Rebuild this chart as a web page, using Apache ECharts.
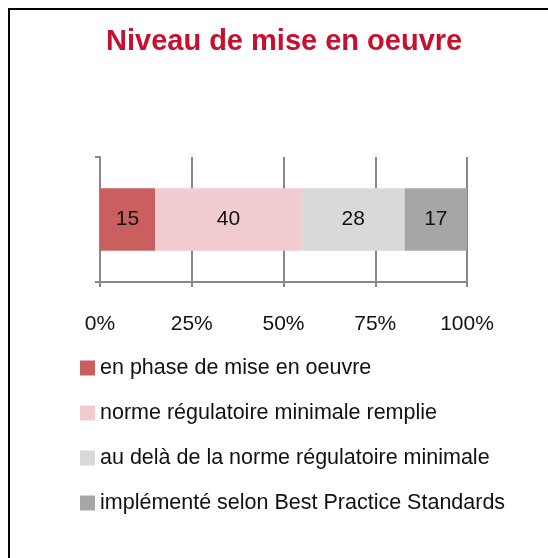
<!DOCTYPE html>
<html><head><meta charset="utf-8">
<script src="https://cdn.jsdelivr.net/npm/echarts@6/dist/echarts.min.js"></script>
<style>html,body{margin:0;padding:0;background:#fff}#c{width:548px;height:558px}</style>
</head><body><div id="c"></div>
<script>
const titleText = "Niveau de mise en oeuvre";
const categories = [""];
const seriesNames = [
  "en phase de mise en oeuvre",
  "norme régulatoire minimale remplie",
  "au delà de la norme régulatoire minimale",
  "implémenté selon Best Practice Standards"
];
const seriesValues = [[15], [40], [28], [17]];
const colors = ["#C9605F", "#F1CBCE", "#D9D9D9", "#A6A6A6"];
const xTicks = [0, 25, 50, 75, 100];

const chart = echarts.init(document.getElementById('c'), null, {renderer: 'canvas'});
const font = "'Liberation Sans', Arial, sans-serif";
chart.setOption({
  animation: false,
  textStyle: {fontFamily: font},
  title: {
    text: titleText, left: 101, top: 22,
    textStyle: {color: '#C8102E', fontSize: 29, fontWeight: 'bold', fontFamily: font}
  },
  graphic: [{
    type: 'rect', shape: {x: 9, y: 9, width: 560, height: 580},
    style: {fill: 'none', stroke: '#000', lineWidth: 2}, silent: true
  }],
  legend: {
    orient: 'vertical', left: 75, top: 352,
    itemWidth: 15, itemHeight: 15, itemGap: 23,
    icon: 'rect',
    textStyle: {fontSize: 21.5, color: '#111', fontFamily: font},
    data: seriesNames
  },
  grid: {left: 100, right: 81, top: 157, bottom: 276, containLabel: false},
  xAxis: {
    type: 'value', min: 0, max: 100, interval: 25,
    axisLine: {show: true, lineStyle: {color: '#888', width: 2}},
    axisTick: {show: true, length: 5, lineStyle: {color: '#888', width: 2}},
    splitLine: {show: true, lineStyle: {color: '#888', width: 2}},
    axisLabel: {formatter: v => xTicks.includes(v) ? v + '%' : '', fontSize: 21, color: '#111', margin: 32, fontFamily: font}
  },
  yAxis: {
    type: 'category', data: categories,
    axisLine: {show: true, lineStyle: {color: '#888', width: 2}},
    axisTick: {show: true, length: 5, lineStyle: {color: '#888', width: 2}},
    axisLabel: {show: false}
  },
  series: seriesNames.map((n, i) => ({
    name: n, type: 'bar', stack: 'total', barWidth: '50%',
    data: seriesValues[i],
    itemStyle: {color: colors[i]},
    label: {show: true, position: 'inside', fontSize: 21, color: '#111', fontFamily: font}
  }))
});
</script></body></html>
